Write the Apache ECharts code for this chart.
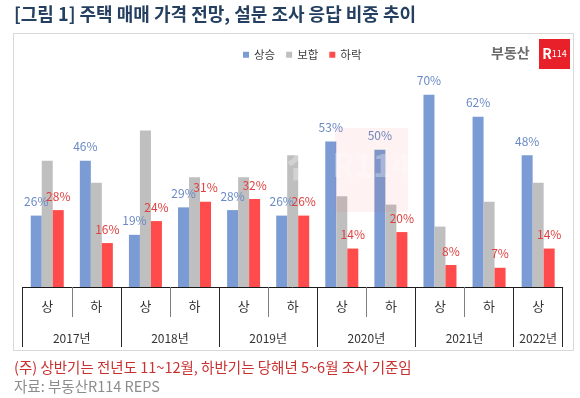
<!DOCTYPE html>
<html>
<head>
<meta charset="utf-8">
<script src="https://cdn.jsdelivr.net/npm/echarts@6/dist/echarts.min.js"></script>
<style>
html,body{margin:0;padding:0;background:#fff;}
#chart{width:580px;height:398px;}
</style>
</head>
<body>
<div id="chart"></div>
<script>
var halves = ['상','하','상','하','상','하','상','하','상','하','상'];
var years = ['2017년','2018년','2019년','2020년','2021년','2022년'];
var yearSpans = [2,2,2,2,2,1];
var seriesNames = ['상승','보합','하락'];
var rise = [26,46,19,29,28,26,53,50,70,62,48];
var flat = [46,38,57,40,40,48,33,30,22,31,38];
var fall = [28,16,24,31,32,26,14,20,8,7,14];

var FONT = '"Noto Sans CJK KR", "Noto Sans", sans-serif';

// second level axis built on half-category points
var nPts = halves.length * 2 + 1;
var yearPts = [];
for (var i = 0; i < nPts; i++) yearPts.push('');
var tickIdx = {}, labelIdx = {};
var start = 0;
for (var k = 0; k < years.length; k++) {
  tickIdx[2 * start] = true;
  labelIdx[2 * start + yearSpans[k]] = true;
  yearPts[2 * start + yearSpans[k]] = years[k];
  start += yearSpans[k];
}
tickIdx[2 * start] = true;

var chart = echarts.init(document.getElementById('chart'));
var option = {
  animation: false,
  textStyle: {fontFamily: FONT},
  grid: {left: 22.7, right: 17.3, top: 67.3, bottom: 111, containLabel: false},
  legend: {
    data: seriesNames,
    left: 238, top: 44,
    icon: 'rect', itemWidth: 6, itemHeight: 6, itemGap: 11,
    textStyle: {fontSize: 11.5, color: '#404040', fontFamily: FONT}
  },
  xAxis: [
    {
      type: 'category', data: halves, position: 'bottom',
      axisLine: {lineStyle: {color: '#1a1a1a', width: 1}},
      axisTick: {show: true, interval: 0, length: 30, lineStyle: {color: '#7f7f7f'}},
      axisLabel: {margin: 13, fontSize: 13, color: '#333', fontFamily: FONT}
    },
    {
      type: 'category', data: yearPts, position: 'bottom', boundaryGap: false,
      axisLine: {show: false},
      axisTick: {show: true, length: 60, lineStyle: {color: '#262626'},
        interval: function (idx) { return !!tickIdx[idx]; }},
      axisLabel: {margin: 45, fontSize: 12, color: '#333', fontFamily: FONT,
        interval: function (idx) { return !!labelIdx[idx]; }}
    }
  ],
  yAxis: {type: 'value', min: 0, max: 80, show: false},
  series: [
    {
      name: seriesNames[0], type: 'bar', data: rise, barWidth: 11, barGap: '0%',
      itemStyle: {color: '#7A9BD3'},
      label: {show: true, position: 'top', distance: 8, formatter: '{c}%',
        fontSize: 12, color: '#6A8AC6', fontFamily: FONT}
    },
    {
      name: seriesNames[1], type: 'bar', data: flat, barWidth: 11, barGap: '0%',
      itemStyle: {color: '#BFBFBF'}
    },
    {
      name: seriesNames[2], type: 'bar', data: fall, barWidth: 11, barGap: '0%',
      itemStyle: {color: '#FF4B4B'},
      label: {show: true, position: 'top', distance: 8, formatter: '{c}%',
        fontSize: 12, color: '#E0403F', fontFamily: FONT}
    }
  ],
  graphic: [
    {type: 'text', left: 14, top: 5, z: 10,
      style: {text: '[그림 1] 주택 매매 가격 전망, 설문 조사 응답 비중 추이',
        font: 'bold 18px ' + FONT, fill: '#243F60'}},
    {type: 'rect', shape: {x: 13.5, y: 33.5, width: 560, height: 317}, z: -1,
      style: {fill: 'none', stroke: '#D9D9D9', lineWidth: 1}},
    {type: 'text', left: 491, top: 46, z: 10,
      style: {text: '부동산', font: 'bold 14px ' + FONT, fill: '#6b6b6b'}},
    {type: 'rect', shape: {x: 539, y: 39, width: 31, height: 30}, z: 10,
      style: {fill: '#E8202A'}},
    {type: 'text', x: 554.5, y: 54, z: 11,
      style: {text: '{r|R}{n|114}', align: 'center', verticalAlign: 'middle',
        rich: {r: {font: 'bold 14px ' + FONT, fill: '#fff'}, n: {font: '9px ' + FONT, fill: '#fff'}}}},
    // faint watermark
    {type: 'text', x: 268, y: 162, z: 20, silent: true,
      style: {text: '부동산', font: 'bold 40px ' + FONT, fill: 'rgba(255,255,255,0.3)', align: 'center', verticalAlign: 'middle'}},
    {type: 'rect', shape: {x: 335, y: 128, width: 73, height: 84}, z: 20, silent: true,
      style: {fill: 'rgba(240,70,70,0.07)'}},
    {type: 'text', x: 371.5, y: 165, z: 21, silent: true,
      style: {text: 'R114', font: 'bold 32px ' + FONT, fill: 'rgba(255,255,255,0.3)', align: 'center', verticalAlign: 'middle'}},
    // footnotes
    {type: 'text', left: 14, top: 360, z: 10,
      style: {text: '(주) 상반기는 전년도 11~12월, 하반기는 당해년 5~6월 조사 기준임',
        font: '14.5px ' + FONT, fill: '#C8312F'}},
    {type: 'text', left: 14, top: 379, z: 10,
      style: {text: '자료: 부동산R114 REPS', font: '14.5px ' + FONT, fill: '#8C8C8C'}}
  ]
};
chart.setOption(option);
</script>
</body>
</html>
